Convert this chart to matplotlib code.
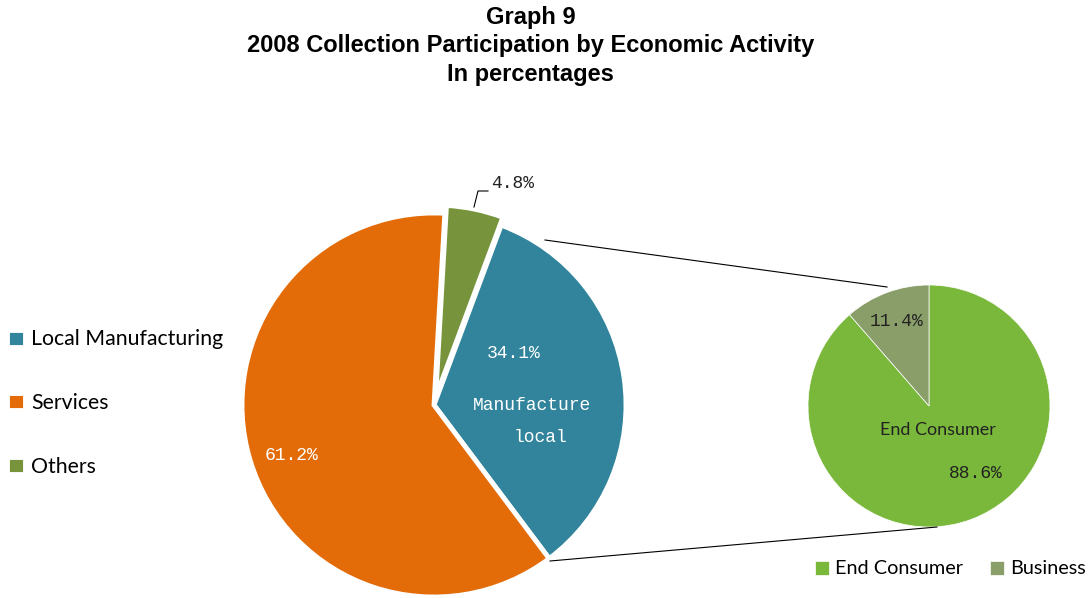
import matplotlib.pyplot as plt
import numpy as np

# Main pie: share of collection by economic activity
activities = ["Local Manufacturing", "Services", "Others"]
activity_pct = [34.1, 61.2, 4.8]
activity_colors = ["#31849B", "#E36C09", "#77933C"]

# Breakdown of local manufacturing
segments = ["End Consumer", "Business"]
segment_pct = [88.6, 11.4]
segment_colors = ["#7AB83B", "#8A9E6A"]

W, H = 1089, 598
fig = plt.figure(figsize=(W / 100, H / 100), dpi=100)
ax = fig.add_axes([0, 0, 1, 1])


def py(y):
    # pixel row (top-down) to axes y
    return H - y


main_c = (434, py(405))
main_r = 192
small_c = (929, py(406))
small_r = 121

wedges, _ = ax.pie(
    activity_pct,
    colors=activity_colors,
    startangle=69.5,
    counterclock=False,
    center=main_c,
    radius=main_r,
    explode=[0, 0, 8],
    wedgeprops=dict(edgecolor="white", linewidth=3.5),
    frame=True,
)

wedges2, _ = ax.pie(
    segment_pct,
    colors=segment_colors,
    startangle=90,
    counterclock=False,
    center=small_c,
    radius=small_r,
    wedgeprops=dict(edgecolor="white", linewidth=0.5),
    frame=True,
)
ax.set_xlim(0, W)
ax.set_ylim(0, H)
ax.set_aspect("equal")
ax.axis("off")

# lines linking the manufacturing wedge to its breakdown
ax.plot([545, 887], [py(240), py(287)], color="black", lw=0.8)
ax.plot([550, 937], [py(561), py(527)], color="black", lw=0.8)

mono = dict(family="Liberation Mono", fontsize=13)
ax.text(513, py(184), f"{activity_pct[2]}%", ha="center", va="center", color="#222222", **mono)
ax.plot([474, 478, 488], [py(207), py(191), py(191)], color="black", lw=0.8)
ax.text(514, py(354), f"{activity_pct[0]}%", ha="center", va="center", color="white", **mono)
ax.text(532, py(405), "Manufacture", ha="center", va="center", color="white", **mono)
ax.text(541, py(437), "local", ha="center", va="center", color="white", **mono)
ax.text(291, py(455), f"{activity_pct[1]}%", ha="center", va="center", color="white", **mono)
ax.text(897, py(322), f"{segment_pct[1]}%", ha="center", va="center", color="#222222", **mono)
ax.text(976, py(473), f"{segment_pct[0]}%", ha="center", va="center", color="#222222", **mono)
ax.text(938, py(430), "End Consumer", ha="center", va="center", color="#222222",
        family="Lato", fontsize=13)

fig.text(0.487, 1 - 6 / H, "Graph 9\n2008 Collection Participation by Economic Activity\nIn percentages",
         ha="center", va="top", family="Liberation Sans", fontweight="bold", fontsize=17,
         linespacing=1.3)

leg = ax.legend(wedges, activities, loc="center left", bbox_to_anchor=(-2 / W, py(403) / H),
                frameon=False, prop=dict(family="Lato", size=15.3), handlelength=0.85,
                handleheight=0.85, handletextpad=0.3, labelspacing=2.05, borderaxespad=0)
ax.add_artist(leg)
ax.legend(wedges2, segments, loc="center right", bbox_to_anchor=(1 + 5 / W, py(569) / H),
          frameon=False, prop=dict(family="Lato", size=14.3), ncol=2, handlelength=0.7,
          handleheight=0.7, handletextpad=0.3, columnspacing=1.4, borderaxespad=0)

fig.savefig("out.png", dpi=100)
